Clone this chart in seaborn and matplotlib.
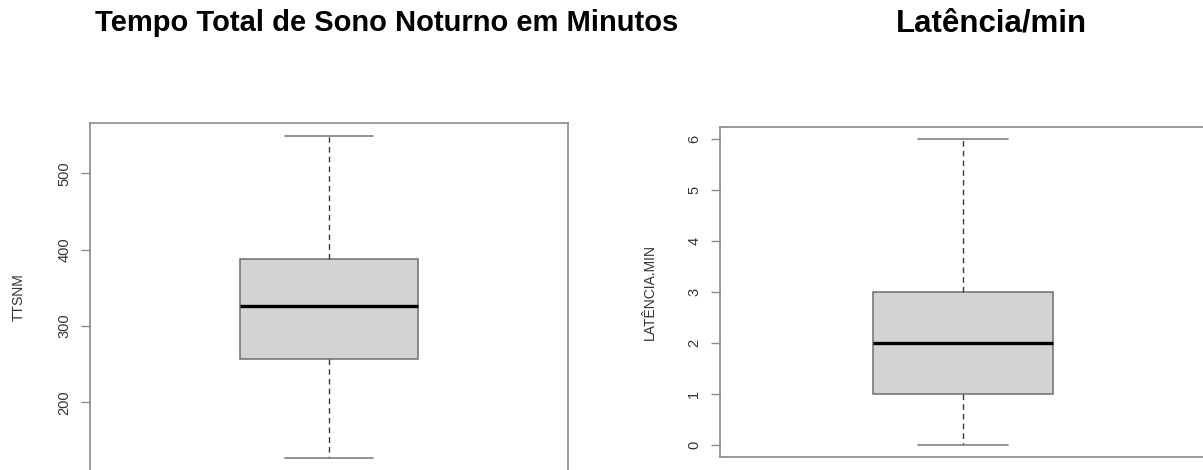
import matplotlib
matplotlib.use("Agg")
import matplotlib.pyplot as plt
import seaborn as sns
import pandas as pd

# Five-number summaries of each variable (min, Q1, median, Q3, max)
ttsnm_values = [127, 257, 326, 388, 549]
latencia_values = [0, 1, 2, 3, 6]

titles = ["Tempo Total de Sono Noturno em Minutos", "Latência/min"]
ylabels = ["TTSNM", "LATÊNCIA.MIN"]
ttsnm_ticks = [200, 300, 400, 500]
latencia_ticks = [0, 1, 2, 3, 4, 5, 6]

sns.set_style("white")
plt.rcParams["font.family"] = ["Liberation Sans", "DejaVu Sans"]

W, H = 1203, 470
fig = plt.figure(figsize=(W / 100, H / 100), dpi=100)


def px_axes(left, top, right, bottom):
    return fig.add_axes([left / W, 1 - bottom / H, (right - left) / W, (bottom - top) / H])


ax1 = px_axes(90, 123, 568, 471)
ax2 = px_axes(720, 127, 1206, 457)

frame_col = "#8a8a8a"
panels = [
    (ax1, ttsnm_values, ttsnm_ticks, ylabels[0]),
    (ax2, latencia_values, latencia_ticks, ylabels[1]),
]

for ax, vals, ticks, ylab in panels:
    df = pd.DataFrame({"v": vals})
    sns.boxplot(
        data=df, y="v", ax=ax, width=0.4, whis=(0, 100),
        color="#d3d3d3", saturation=1, linecolor="#6e6e6e", linewidth=1.1,
        medianprops={"color": "black", "linewidth": 2.4},
        whiskerprops={"color": "#3a3a3a", "linestyle": (0, (4, 3)), "linewidth": 1},
        capprops={"color": "#808080", "linewidth": 1.2},
        showfliers=False,
    )
    lo, hi = min(vals), max(vals)
    pad = (hi - lo) * 0.04
    ax.set_ylim(lo - pad, hi + pad)
    ax.set_xlim(-0.54, 0.54)
    ax.set_xticks([])
    ax.set_xlabel("")
    ax.set_yticks(ticks)
    ax.set_yticklabels([str(t) for t in ticks], rotation=90, va="center",
                       fontsize=10.5, color="#333333")
    ax.tick_params(axis="y", direction="out", length=6.5, width=1,
                   color=frame_col, pad=7, left=True)
    ax.set_ylabel(ylab, fontsize=10, color="#333333")
    for s in ax.spines.values():
        s.set_visible(True)
        s.set_color(frame_col)
        s.set_linewidth(1.2)

ax1.yaxis.set_label_coords(-0.134, 0.5)
ax2.yaxis.set_label_coords(-0.130, 0.5)

fig.text(387 / W, 1 - 23 / H, titles[0], ha="center", va="center",
         fontsize=21, fontweight="bold", color="black")
fig.text(991 / W, 1 - 23 / H, titles[1], ha="center", va="center",
         fontsize=22.5, fontweight="bold", color="black")

fig.savefig("out.png", dpi=100)
